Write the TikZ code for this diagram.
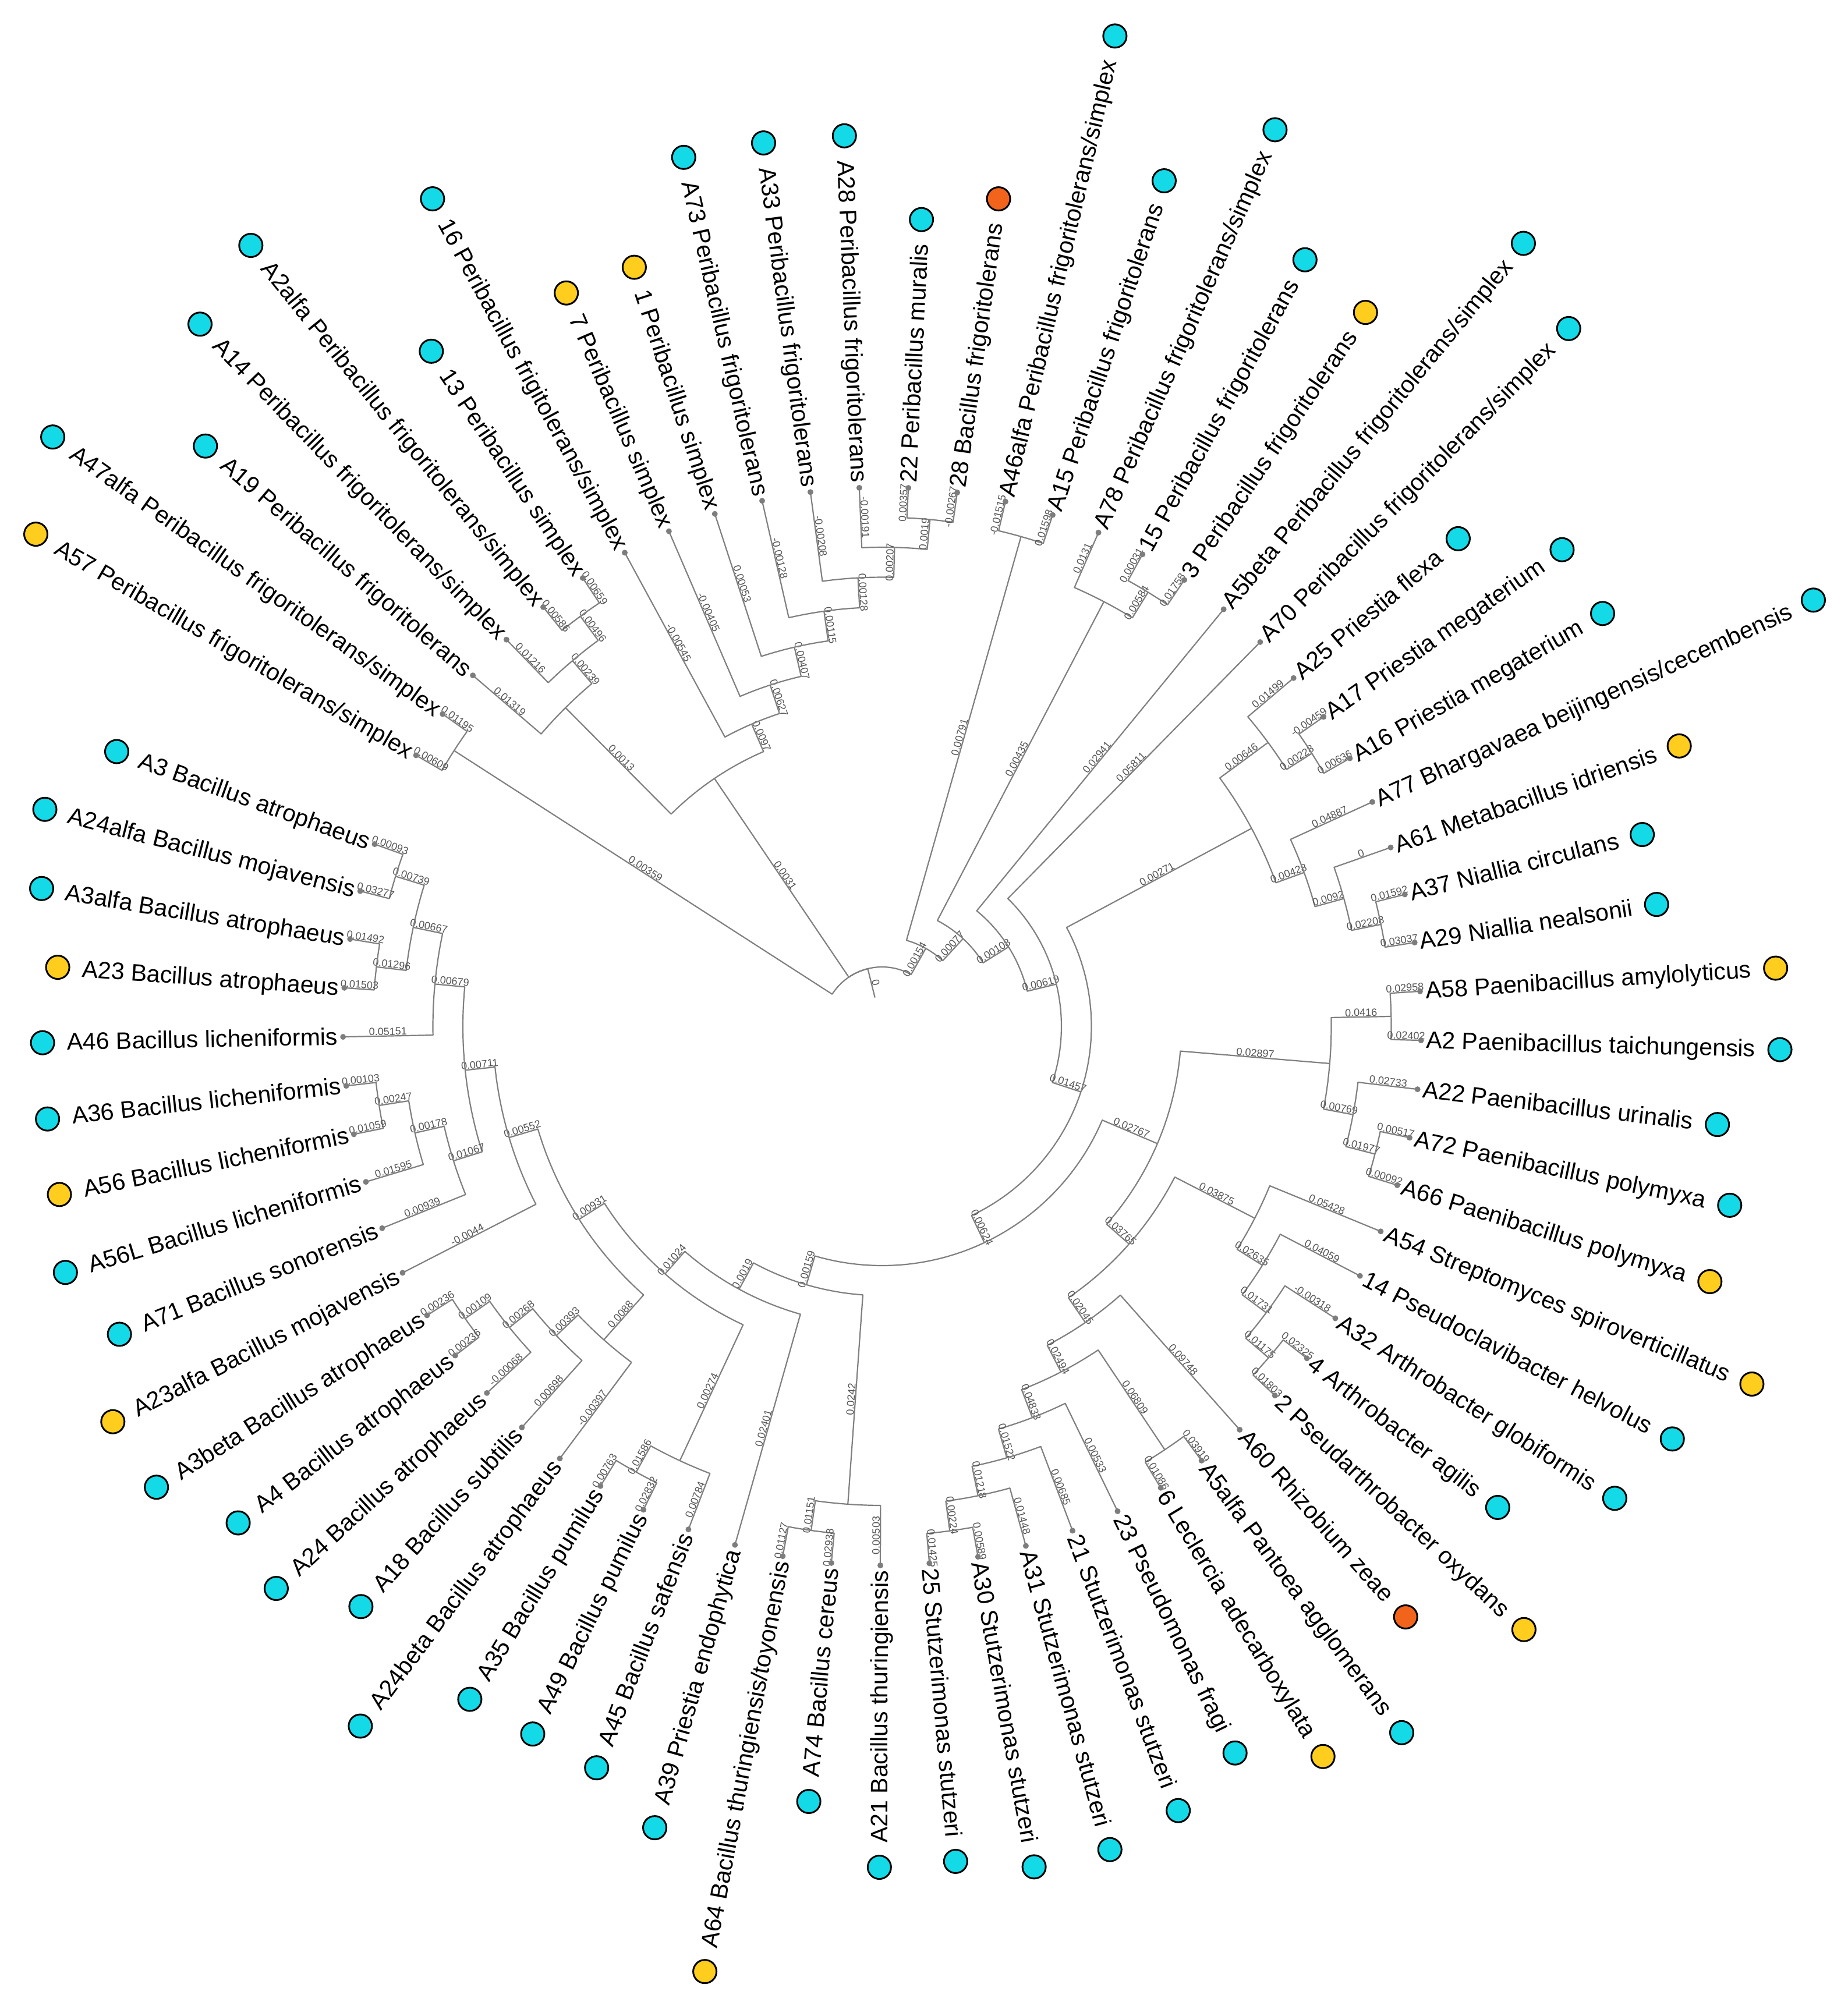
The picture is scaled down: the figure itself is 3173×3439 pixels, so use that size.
\documentclass[tikz,border=0pt]{standalone}
\usepackage{fontspec}
\setmainfont{Liberation Sans}
\usetikzlibrary{calc}
\definecolor{linegray}{RGB}{128,128,128}
\definecolor{labgray}{RGB}{85,85,85}
\definecolor{dotgray}{RGB}{125,125,125}
\definecolor{mcyan}{RGB}{20,218,232}
\definecolor{myel}{RGB}{255,205,30}
\definecolor{mora}{RGB}{242,100,28}
\def\Rl{926}
\def\Hst{51.5}
\def\Abase{160.25}
\def\Asp{5.2173913}
\tikzset{
  br/.style={draw=linegray, line width=2.2pt, line join=round},
  blab/.style={font=\fontsize{18}{18}\selectfont, text=labgray, inner sep=1pt},
  leaflab/.style={font=\fontsize{41}{41}\selectfont, inner sep=0pt, text height=27pt, text depth=0pt},
  marker/.style={circle, draw=black, line width=3pt, minimum size=40pt, inner sep=0pt},
}
\newcommand\nd[3]{%
  \pgfmathsetmacro\tmpA{\Abase+#2*\Asp}%
  \pgfmathsetmacro\tmpR{\Rl-\Hst*#3}%
  \expandafter\xdef\csname TA#1\endcsname{\tmpA}%
  \expandafter\xdef\csname TR#1\endcsname{\tmpR}%
  \coordinate (#1) at (\tmpA:\tmpR pt);%
}
\newcommand\ed[3]{%
  \edef\eAp{\csname TA#1\endcsname}\edef\eRp{\csname TR#1\endcsname}%
  \edef\eAc{\csname TA#2\endcsname}\edef\eRc{\csname TR#2\endcsname}%
  \draw[br] (#1) arc[start angle=\eAp, end angle=\eAc, radius=\eRp pt] -- (#2);%
  \pgfmathsetmacro\eMr{(\eRp+\eRc)/2}%
  \pgfmathsetmacro\eRot{cos(\eAc) > -0.001 ? \eAc : \eAc+180}%
  \node[blab, rotate=\eRot, anchor=south] at (\eAc:\eMr pt) {#3};%
}
\newcommand\lf[3]{%
  \nd{L#1}{#1}{0}%
  \pgfmathsetmacro\lA{\Abase+#1*\Asp}%
  \pgfmathtruncatemacro\lR{cos(\lA) > -0.001 ? 1 : 0}%
  \ifnum\lR=1
    \node[leaflab, rotate=\lA, anchor=west] (T#1) at (\lA:935pt) {#2};
    \node[marker, fill=#3] (M#1) at ($(T#1.east)+(\lA:42pt)$) {};
  \else
    \pgfmathsetmacro\lB{\lA+180}%
    \node[leaflab, rotate=\lB, anchor=east] (T#1) at (\lA:935pt) {#2};
    \node[marker, fill=#3] (M#1) at ($(T#1.west)+(\lA:42pt)$) {};
  \fi
}
\begin{document}
\begin{tikzpicture}[x=1pt,y=1pt]
\useasboundingbox (0,0) rectangle (3173,-3439);
\fill[white] (0,0) rectangle (3173,-3439);
\begin{scope}[shift={(1515,-1763)}]
% ---------- leaves ----------
\lf{0}{A3 Bacillus atrophaeus}{mcyan}
\lf{1}{A24alfa Bacillus mojavensis}{mcyan}
\lf{2}{A3alfa Bacillus atrophaeus}{mcyan}
\lf{3}{A23 Bacillus atrophaeus}{myel}
\lf{4}{A46 Bacillus licheniformis}{mcyan}
\lf{5}{A36 Bacillus licheniformis}{mcyan}
\lf{6}{A56 Bacillus licheniformis}{myel}
\lf{7}{A56L Bacillus licheniformis}{mcyan}
\lf{8}{A71 Bacillus sonorensis}{mcyan}
\lf{9}{A23alfa Bacillus mojavensis}{myel}
\lf{10}{A3beta Bacillus atrophaeus}{mcyan}
\lf{11}{A4 Bacillus atrophaeus}{mcyan}
\lf{12}{A24 Bacillus atrophaeus}{mcyan}
\lf{13}{A18 Bacillus subtilis}{mcyan}
\lf{14}{A24beta Bacillus atrophaeus}{mcyan}
\lf{15}{A35 Bacillus pumilus}{mcyan}
\lf{16}{A49 Bacillus pumilus}{mcyan}
\lf{17}{A45 Bacillus safensis}{mcyan}
\lf{18}{A39 Priestia endophytica}{mcyan}
\lf{19}{A64 Bacillus thuringiensis/toyonensis}{myel}
\lf{20}{A74 Bacillus cereus}{mcyan}
\lf{21}{A21 Bacillus thuringiensis}{mcyan}
\lf{22}{25 Stutzerimonas stutzeri}{mcyan}
\lf{23}{A30 Stutzerimonas stutzeri}{mcyan}
\lf{24}{A31 Stutzerimonas stutzeri}{mcyan}
\lf{25}{21 Stutzerimonas stutzeri}{mcyan}
\lf{26}{23 Pseudomonas fragi}{mcyan}
\lf{27}{6 Leclercia adecarboxylata}{myel}
\lf{28}{A5alfa Pantoea agglomerans}{mcyan}
\lf{29}{A60 Rhizobium zeae}{mora}
\lf{30}{2 Pseudarthrobacter oxydans}{myel}
\lf{31}{4 Arthrobacter agilis}{mcyan}
\lf{32}{A32 Arthrobacter globiformis}{mcyan}
\lf{33}{14 Pseudoclavibacter helvolus}{mcyan}
\lf{34}{A54 Streptomyces spiroverticillatus}{myel}
\lf{35}{A66 Paenibacillus polymyxa}{myel}
\lf{36}{A72 Paenibacillus polymyxa}{mcyan}
\lf{37}{A22 Paenibacillus urinalis}{mcyan}
\lf{38}{A2 Paenibacillus taichungensis}{mcyan}
\lf{39}{A58 Paenibacillus amylolyticus}{myel}
\lf{40}{A29 Niallia nealsonii}{mcyan}
\lf{41}{A37 Niallia circulans}{mcyan}
\lf{42}{A61 Metabacillus idriensis}{myel}
\lf{43}{A77 Bhargavaea beijingensis/cecembensis}{mcyan}
\lf{44}{A16 Priestia megaterium}{mcyan}
\lf{45}{A17 Priestia megaterium}{mcyan}
\lf{46}{A25 Priestia flexa}{mcyan}
\lf{47}{A70 Peribacillus frigoritolerans/simplex}{mcyan}
\lf{48}{A5beta Peribacillus frigoritolerans/simplex}{mcyan}
\lf{49}{3 Peribacillus frigoritolerans}{myel}
\lf{50}{15 Peribacillus frigoritolerans}{mcyan}
\lf{51}{A78 Peribacillus frigoritolerans/simplex}{mcyan}
\lf{52}{A15 Peribacillus frigoritolerans}{mcyan}
\lf{53}{A46alfa Peribacillus frigoritolerans/simplex}{mcyan}
\lf{54}{28 Bacillus frigoritolerans}{mora}
\lf{55}{22 Peribacillus muralis}{mcyan}
\lf{56}{A28 Peribacillus frigoritolerans}{mcyan}
\lf{57}{A33 Peribacillus frigoritolerans}{mcyan}
\lf{58}{A73 Peribacillus frigoritolerans}{mcyan}
\lf{59}{1 Peribacillus simplex}{myel}
\lf{60}{7 Peribacillus simplex}{myel}
\lf{61}{16 Peribacillus frigitolerans/simplex}{mcyan}
\lf{62}{13 Peribacillus simplex}{mcyan}
\lf{63}{A2alfa Peribacillus frigoritolerans/simplex}{mcyan}
\lf{64}{A14 Peribacillus frigoritolerans/simplex}{mcyan}
\lf{65}{A19 Peribacillus frigoritolerans}{mcyan}
\lf{66}{A47alfa Peribacillus frigoritolerans/simplex}{mcyan}
\lf{67}{A57 Peribacillus frigoritolerans/simplex}{myel}
% ---------- internal nodes ----------
\nd{Z}{66.5}{1}
\nd{N496}{62.5}{1}
\nd{N239}{63.25}{2}
\nd{N0013}{64.125}{3}
\nd{N19}{54.5}{1}
\nd{N207}{55.25}{2}
\nd{N128}{56.125}{3}
\nd{N115}{57.0625}{4}
\nd{N407}{58.03125}{5}
\nd{N627}{59.015625}{6}
\nd{N0097}{60.0078125}{7}
\nd{N0031}{62.06640625}{8}
\nd{Q1}{52.5}{1}
\nd{Mx}{49.5}{1}
\nd{Q2}{50.25}{2}
\nd{K1}{44.5}{1}
\nd{K2}{45.25}{2}
\nd{L1n}{40.5}{1}
\nd{L2n}{41.25}{2}
\nd{L3n}{42.125}{3}
\nd{Q5}{43.6875}{4}
\nd{J1}{38.5}{1}
\nd{J2}{35.5}{1}
\nd{J3}{36.25}{2}
\nd{J4}{37.375}{3}
\nd{H1}{30.5}{1}
\nd{H2}{31.25}{2}
\nd{H3}{32.125}{3}
\nd{H4}{33.0625}{4}
\nd{G1}{22.5}{1}
\nd{G2}{23.25}{2}
\nd{G3}{24.125}{3}
\nd{G4}{25.0625}{4}
\nd{X}{27.5}{1}
\nd{G5}{26.28125}{5}
\nd{G6}{27.640625}{6}
\nd{G7}{30.3515625}{7}
\nd{G8}{33.86328125}{8}
\nd{N01}{0.5}{1}
\nd{N23}{2.5}{1}
\nd{Pa}{1.5}{2}
\nd{Pb}{2.75}{3}
\nd{N56}{5.5}{1}
\nd{N567}{6.25}{2}
\nd{Q}{7.125}{3}
\nd{Pc}{4.9375}{4}
\nd{Pd}{6.96875}{5}
\nd{S1}{10.5}{1}
\nd{S2}{11.25}{2}
\nd{S3}{12.125}{3}
\nd{S4}{13.0625}{4}
\nd{Pe}{10.015625}{6}
\nd{U1}{15.5}{1}
\nd{U2}{16.25}{2}
\nd{Pf}{13.1328125}{7}
\nd{Pg}{15.56640625}{8}
\nd{V1}{19.5}{1}
\nd{V2}{20.25}{2}
\nd{Ph}{17.908203}{9}
\nd{Pi}{25.885742}{10}
\nd{P5}{34.786621}{11}
\nd{P4}{40.893311}{12}
\nd{P3}{44.446655}{13}
\nd{P2}{47.348328}{14}
\nd{P1}{49.924164}{15}
\nd{root}{58.212082}{16}
% ---------- edges ----------
\ed{root}{P1}{0.00154}
\ed{root}{N0031}{0.0031}
\ed{root}{Z}{0.00359}
\ed{Z}{L66}{0.01195}
\ed{Z}{L67}{0.00609}
\ed{N0031}{N0097}{0.0097}
\ed{N0031}{N0013}{0.0013}
\ed{N0013}{N239}{0.00239}
\ed{N0013}{L65}{0.01319}
\ed{N239}{N496}{0.00496}
\ed{N239}{L64}{0.01216}
\ed{N496}{L62}{0.00659}
\ed{N496}{L63}{0.00586}
\ed{N0097}{N627}{0.00627}
\ed{N0097}{L61}{-0.00545}
\ed{N627}{N407}{0.00407}
\ed{N627}{L60}{-0.00405}
\ed{N407}{N115}{0.00115}
\ed{N407}{L59}{0.00053}
\ed{N115}{N128}{0.00128}
\ed{N115}{L58}{-0.00128}
\ed{N128}{N207}{0.00207}
\ed{N128}{L57}{-0.00208}
\ed{N207}{N19}{0.0019}
\ed{N207}{L56}{-0.00191}
\ed{N19}{L54}{-0.00267}
\ed{N19}{L55}{0.00357}
\ed{P1}{P2}{0.00077}
\ed{P1}{Q1}{0.00791}
\ed{Q1}{L52}{0.01598}
\ed{Q1}{L53}{-0.01515}
\ed{P2}{P3}{0.00108}
\ed{P2}{Q2}{0.00435}
\ed{Q2}{Mx}{0.00584}
\ed{Q2}{L51}{0.0131}
\ed{Mx}{L49}{0.01758}
\ed{Mx}{L50}{0.00031}
\ed{P3}{P4}{0.00619}
\ed{P3}{L48}{0.02941}
\ed{P4}{P5}{0.01457}
\ed{P4}{L47}{0.05811}
\ed{P5}{Pi}{0.00624}
\ed{P5}{Q5}{0.00271}
\ed{Q5}{L3n}{0.00428}
\ed{Q5}{K2}{0.00646}
\ed{K2}{K1}{0.00228}
\ed{K2}{L46}{0.01499}
\ed{K1}{L44}{0.00636}
\ed{K1}{L45}{-0.00459}
\ed{L3n}{L2n}{0.0092}
\ed{L3n}{L43}{0.04887}
\ed{L2n}{L1n}{0.02208}
\ed{L2n}{L42}{0}
\ed{L1n}{L40}{0.03037}
\ed{L1n}{L41}{0.01592}
\ed{Pi}{Ph}{0.00159}
\ed{Pi}{G8}{0.02767}
\ed{G8}{G7}{0.03765}
\ed{G8}{J4}{0.02897}
\ed{J4}{J3}{0.00769}
\ed{J4}{J1}{0.0416}
\ed{J1}{L38}{0.02402}
\ed{J1}{L39}{0.02958}
\ed{J3}{J2}{0.01977}
\ed{J3}{L37}{0.02733}
\ed{J2}{L35}{0.00092}
\ed{J2}{L36}{0.00517}
\ed{G7}{G6}{0.02045}
\ed{G7}{H4}{0.03875}
\ed{H4}{H3}{0.02635}
\ed{H4}{L34}{0.05428}
\ed{H3}{H2}{0.01731}
\ed{H3}{L33}{0.04059}
\ed{H2}{H1}{0.01175}
\ed{H2}{L32}{-0.00318}
\ed{H1}{L30}{0.01803}
\ed{H1}{L31}{0.02325}
\ed{G6}{G5}{0.02494}
\ed{G6}{L29}{0.09748}
\ed{G5}{G4}{0.04833}
\ed{G5}{X}{0.06809}
\ed{X}{L27}{0.01086}
\ed{X}{L28}{0.03919}
\ed{G4}{G3}{0.01522}
\ed{G4}{L26}{0.00533}
\ed{G3}{G2}{0.01218}
\ed{G3}{L25}{0.00685}
\ed{G2}{G1}{0.00224}
\ed{G2}{L24}{0.01448}
\ed{G1}{L22}{0.01425}
\ed{G1}{L23}{0.00589}
\ed{Ph}{Pg}{0.0019}
\ed{Ph}{V2}{0.0242}
\ed{V2}{V1}{0.01151}
\ed{V2}{L21}{0.00503}
\ed{V1}{L19}{0.01127}
\ed{V1}{L20}{0.02938}
\ed{Pg}{Pf}{0.01024}
\ed{Pg}{L18}{0.02401}
\ed{Pf}{Pe}{0.00931}
\ed{Pf}{U2}{0.00274}
\ed{U2}{U1}{0.01586}
\ed{U2}{L17}{0.00784}
\ed{U1}{L15}{0.00763}
\ed{U1}{L16}{0.02832}
\ed{Pe}{Pd}{0.00552}
\ed{Pe}{S4}{0.0088}
\ed{S4}{S3}{0.00393}
\ed{S4}{L14}{-0.00397}
\ed{S3}{S2}{0.00268}
\ed{S3}{L13}{0.00698}
\ed{S2}{S1}{0.00109}
\ed{S2}{L12}{-0.00068}
\ed{S1}{L10}{0.00236}
\ed{S1}{L11}{0.00236}
\ed{Pd}{Pc}{0.00711}
\ed{Pd}{L9}{-0.0044}
\ed{Pc}{Pb}{0.00679}
\ed{Pc}{Q}{0.01067}
\ed{Q}{N567}{0.00178}
\ed{Q}{L8}{0.00939}
\ed{N567}{N56}{0.00247}
\ed{N567}{L7}{0.01595}
\ed{N56}{L5}{0.00103}
\ed{N56}{L6}{0.01059}
\ed{Pb}{Pa}{0.00667}
\ed{Pb}{L4}{0.05151}
\ed{Pa}{N01}{0.00739}
\ed{Pa}{N23}{0.01296}
\ed{N01}{L0}{0.00093}
\ed{N01}{L1}{0.03277}
\ed{N23}{L2}{0.01492}
\ed{N23}{L3}{0.01503}
% root stub
\coordinate (rootin) at (\csname TAroot\endcsname:51pt);
\draw[br] (root) -- (rootin);
\pgfmathsetmacro\rsA{\csname TAroot\endcsname+180}
\node[blab, rotate=\rsA, anchor=south] at (\csname TAroot\endcsname:76pt) {0};
% tip dots
\foreach \i in {0,...,67} {\fill[dotgray] (L\i) circle (5pt);}
\end{scope}
\end{tikzpicture}
\end{document}
